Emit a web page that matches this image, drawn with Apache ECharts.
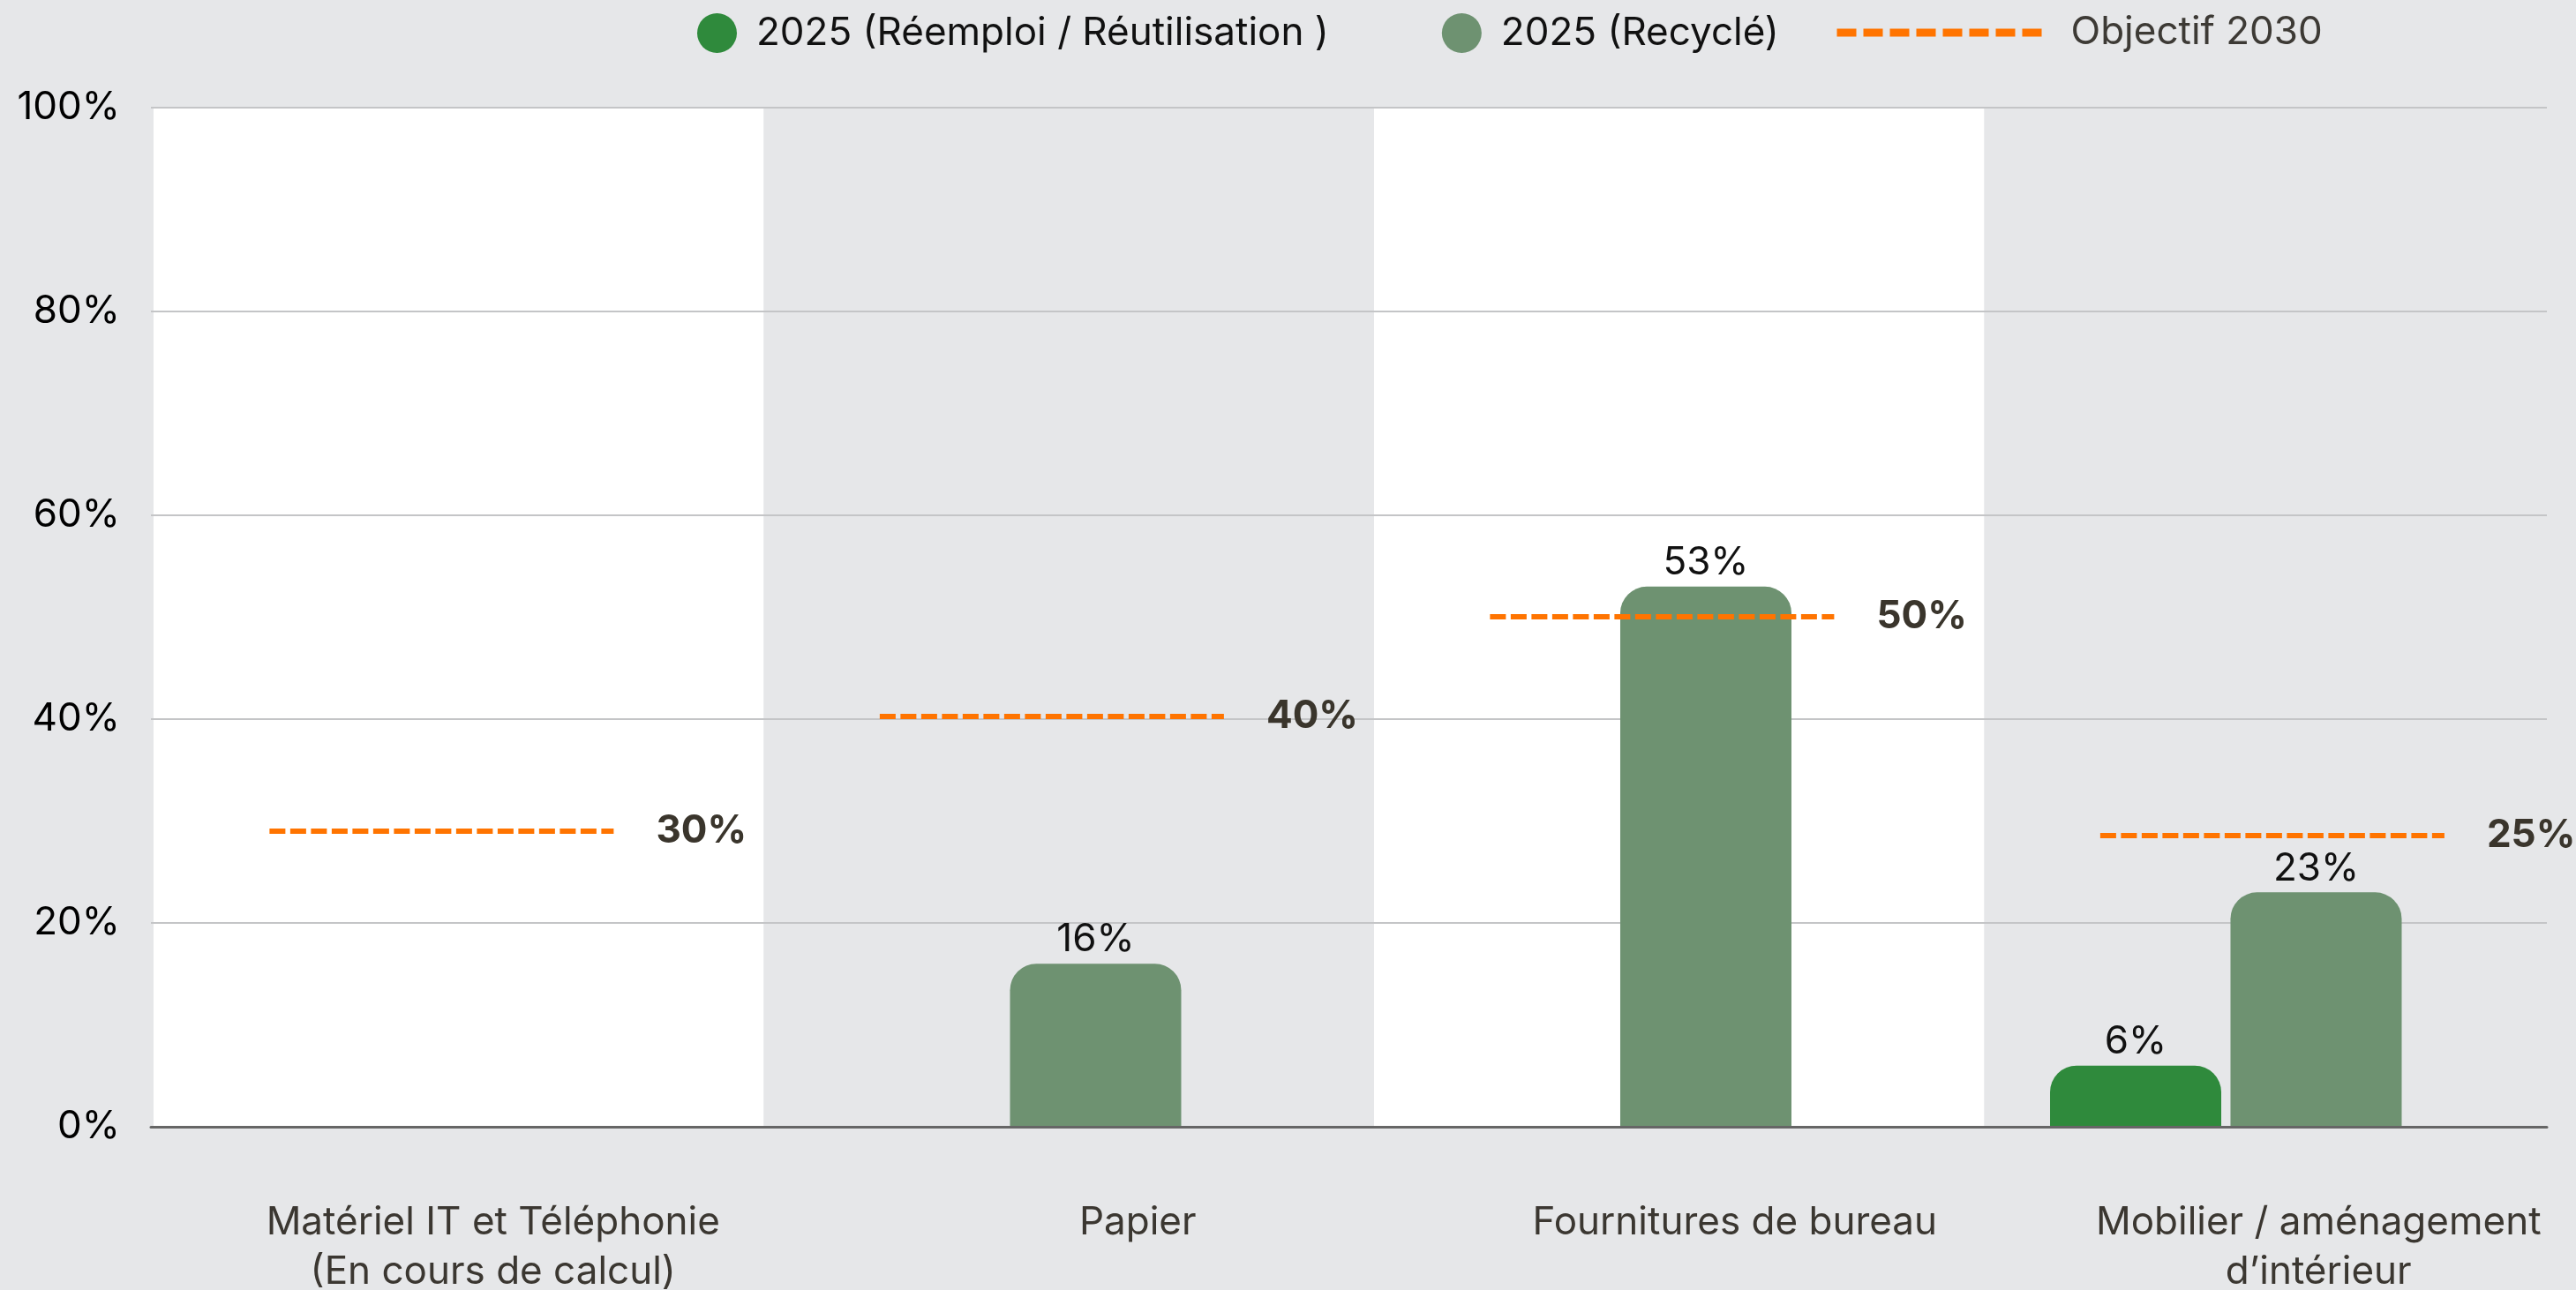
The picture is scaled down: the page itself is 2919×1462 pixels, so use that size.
<!DOCTYPE html>
<html>
<head>
<meta charset="utf-8">
<script src="https://cdn.jsdelivr.net/npm/echarts@6/dist/echarts.min.js"></script>
<style>
  html, body { margin: 0; padding: 0; background: #e6e7e9; }
  #main { width: 2919px; height: 1462px; }
</style>
</head>
<body>
<div id="main"></div>
<script>
// categories (x axis)
const categories = [
  'Matériel IT et Téléphonie\n(En cours de calcul)',
  'Papier',
  'Fournitures de bureau',
  'Mobilier / aménagement\nd’intérieur'
]
// 2025 values, in %
const reemploi2025 = [null, null, null, 6]
const recycle2025 = [null, 16, 53, 23]
// objectif 2030 : hauteur du trait pointillé et texte affiché
const objectifLevel = [29, 40.3, 50.1, 28.6]
const objectifLabel = ['30%', '40%', '50%', '25%']
const yTicks = [0, 20, 40, 60, 80, 100]

const FONT = 'Inter'
const GREEN = '#2f8a3c'
const SAGE = '#6e9271'
const ORANGE = '#ff7400'

let myChart = echarts.init(document.getElementById('main'))

const gridTop = 122, gridHeight = 1155, bandW = 691.5
const gridLeft = 174
const barShift = 72 // les barres sont légèrement décalées vers la gauche
const labelShift = [39, 78, 63, 33] // décalage horizontal des libellés

let option = {
  backgroundColor: '#e6e7e9',
  textStyle: { fontFamily: FONT },
  animation: false,
  legend: [
    {
      left: 790, top: 15, padding: 0,
      icon: 'circle',
      itemWidth: 45, itemHeight: 45,
      itemGap: 128,
      data: ['2025 (Réemploi / Réutilisation )', '2025 (Recyclé)'],
      textStyle: { fontSize: 44, color: '#111', fontFamily: FONT, padding: [0, 0, 0, 17] }
    },
    {
      left: 2077, top: 15, padding: 0,
      itemWidth: 232, itemHeight: 45,
      data: ['Objectif 2030'],
      itemStyle: { opacity: 0 },
      lineStyle: { color: ORANGE, width: 9, type: [22, 8] },
      textStyle: { fontSize: 44, color: '#3d3a35', fontFamily: FONT, padding: [0, 0, 0, 28] }
    }
  ],
  grid: [
    // bandes, libellés, objectifs
    { left: gridLeft, top: gridTop, width: bandW * 4, height: gridHeight, outerBoundsMode: 'none' },
    // barres
    { left: gridLeft - barShift, top: gridTop, width: bandW * 4, height: gridHeight, outerBoundsMode: 'none' },
    // quadrillage + axe y
    { left: 171, top: gridTop, right: 33, height: gridHeight, outerBoundsMode: 'none' }
  ],
  xAxis: [
    {
      type: 'category', gridIndex: 0,
      data: categories.map(function (c, i) {
        return { value: c, textStyle: { padding: [0, 0, 0, 2 * labelShift[i]] } }
      }),
      axisLine: { show: false }, axisTick: { show: false },
      splitArea: { show: true, areaStyle: { color: ['#ffffff', '#e6e7e9'] } },
      axisLabel: {
        fontSize: 44, color: '#3b3731', lineHeight: 56, margin: 81,
        fontFamily: FONT
      }
    },
    { type: 'value', gridIndex: 0, min: 0, max: 4, show: false },
    { type: 'category', gridIndex: 1, data: categories, show: false },
    {
      type: 'value', gridIndex: 2, min: 0, max: 1, z: 3,
      axisLine: { show: true, lineStyle: { color: '#666', width: 3 } },
      axisTick: { show: false }, axisLabel: { show: false }, splitLine: { show: false }
    }
  ],
  yAxis: [
    { type: 'value', gridIndex: 0, min: 0, max: 100, show: false },
    { type: 'value', gridIndex: 1, min: 0, max: 100, show: false },
    {
      type: 'value', gridIndex: 2, min: 0, max: 100, interval: 20, z: 1,
      axisLine: { show: false }, axisTick: { show: false },
      axisLabel: {
        fontSize: 44, color: '#000', margin: 35, fontFamily: FONT,
        formatter: function (v) { return yTicks.indexOf(v) >= 0 ? v + '%' : '' }
      },
      splitLine: { show: true, lineStyle: { color: '#c4c5c7', width: 2 } }
    }
  ],
  series: [
    {
      name: '2025 (Réemploi / Réutilisation )',
      type: 'bar', xAxisIndex: 2, yAxisIndex: 1,
      data: reemploi2025,
      barWidth: 194, barGap: '5.4%',
      itemStyle: { color: GREEN, borderRadius: [30, 30, 0, 0] },
      label: {
        show: true, position: 'top', distance: 5, fontSize: 44, color: '#111',
        fontFamily: FONT, formatter: '{c}%'
      }
    },
    {
      name: '2025 (Recyclé)',
      type: 'bar', xAxisIndex: 2, yAxisIndex: 1,
      data: recycle2025,
      barWidth: 194, barGap: '5.4%',
      itemStyle: { color: SAGE, borderRadius: [30, 30, 0, 0] },
      label: {
        show: true, position: 'top', distance: 5, fontSize: 44, color: '#111',
        fontFamily: FONT, formatter: '{c}%'
      }
    },
    {
      name: 'Objectif 2030',
      type: 'line', xAxisIndex: 1, yAxisIndex: 0,
      data: [],
      symbol: 'none',
      itemStyle: { color: ORANGE },
      lineStyle: { color: ORANGE, width: 9, type: [22, 8] },
      markLine: {
        silent: true,
        symbol: ['none', 'none'],
        lineStyle: { color: ORANGE, width: 6, type: [18, 5.5] },
        label: {
          show: true, position: 'end', distance: 48, formatter: '{b}',
          fontSize: 44, fontWeight: 'bold', color: '#3a352c', fontFamily: FONT
        },
        data: objectifLevel.map(function (v, i) {
          return [
            { name: objectifLabel[i], coord: [i + 0.19, v] },
            { coord: [i + 0.754, v] }
          ]
        })
      }
    }
  ]
}

myChart.setOption(option)
</script>
</body>
</html>
